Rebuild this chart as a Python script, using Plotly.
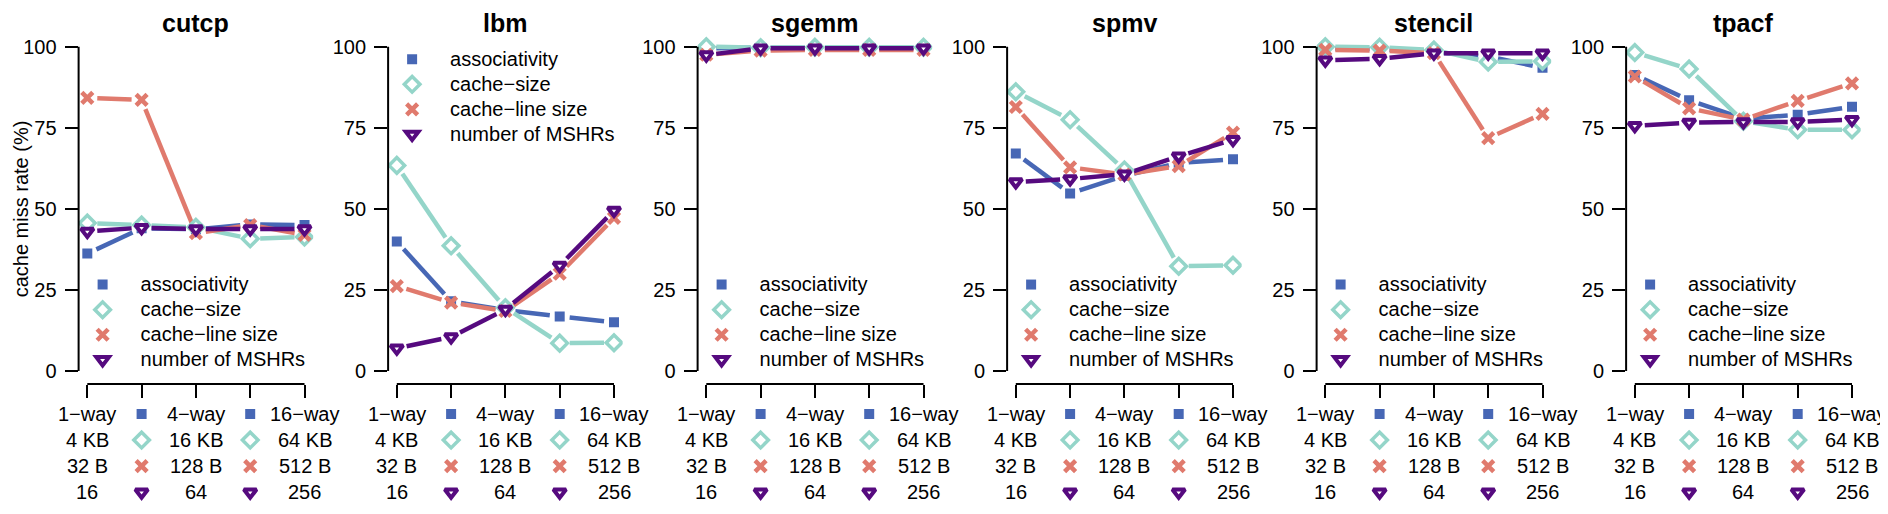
import plotly.graph_objects as go

# ---------------- data ----------------
benchmarks = ["cutcp", "lbm", "sgemm", "spmv", "stencil", "tpacf"]
series_names = ["associativity", "cache\u2212size", "cache\u2212line size", "number of MSHRs"]
positions = [1, 2, 3, 4, 5]

associativity = [
    [36.2, 44.0, 43.7, 45.2, 45.0],
    [39.9, 21.5, 18.8, 16.8, 15.0],
    [99.5, 99.7, 99.7, 99.7, 99.7],
    [67.1, 54.7, 60.2, 64.2, 65.3],
    [99.5, 99.2, 98.3, 97.0, 93.5],
    [91.3, 83.5, 77.8, 79.0, 81.5],
]
cache_size = [
    [45.6, 45.0, 44.3, 40.8, 41.3],
    [63.4, 38.6, 19.5, 8.6, 8.7],
    [100.0, 99.7, 99.8, 99.8, 99.8],
    [86.1, 77.5, 62.0, 32.3, 32.6],
    [100.0, 99.8, 99.0, 95.3, 95.5],
    [98.2, 93.1, 77.0, 74.4, 74.4],
]
cache_line_size = [
    [84.2, 83.6, 42.5, 45.0, 42.0],
    [26.2, 21.1, 18.5, 30.0, 47.2],
    [97.5, 98.8, 99.0, 99.0, 99.0],
    [81.4, 62.8, 60.6, 63.2, 73.5],
    [99.0, 98.8, 98.0, 71.8, 79.3],
    [90.8, 81.0, 77.5, 83.3, 88.7],
]
num_mshrs = [
    [43.0, 44.2, 43.8, 43.8, 43.8],
    [7.0, 10.5, 19.0, 32.5, 49.5],
    [97.4, 99.5, 99.5, 99.5, 99.5],
    [58.3, 59.2, 60.7, 66.2, 71.3],
    [95.8, 96.3, 98.0, 98.0, 98.0],
    [75.6, 76.6, 76.8, 76.8, 77.5],
]

labels_assoc = ["1\u2212way", "4\u2212way", "16\u2212way"]
labels_size = ["4 KB", "16 KB", "64 KB"]
labels_line = ["32 B", "128 B", "512 B"]
labels_mshr = ["16", "64", "256"]

y_ticks = [0, 25, 50, 75, 100]
y_title = "cache miss rate (%)"

# ---------------- style / geometry ----------------
PAGE_W, PAGE_H = 1888, 514
OFF = 8                      # default page body margin
W, H = PAGE_W - OFF, PAGE_H - OFF
FONT = "Liberation Sans, Arial, Helvetica, sans-serif"
colors = ["#4767B5", "#94D5C9", "#E07A6D", "#560A7F"]
legend_top = [False, True, False, False, False, False]


def fx(p):  # page pixel x -> paper fraction
    return (p - OFF) / W


def fy(p):  # page pixel y -> paper fraction
    return 1 - (p - OFF) / H


first_tick_px0 = 87.3
panel_step_px = 309.5
unit_px = 54.3
x_range = [0.84, 5.16]
y_range = [-4, 104]
plot_top_px, plot_bot_px = 33.7, 384.0
y_px_per_unit = (plot_bot_px - plot_top_px) / (y_range[1] - y_range[0])
gap_px = 10.0

row_first_px = 414.0
row_step_px = 26.1


def marker_style(k):
    if k == 0:
        return dict(symbol="square", size=10, color=colors[0], line=dict(width=0))
    if k == 1:
        return dict(symbol="diamond", size=12, color="white", line=dict(color=colors[1], width=3.5))
    if k == 2:
        return dict(symbol="x-thin", size=11, color=colors[2], line=dict(color=colors[2], width=4.5))
    return dict(symbol="triangle-down", size=11, color="white", line=dict(color=colors[3], width=4))


def gapped(xs, ys):
    """R type='b' style: line segments stop short of each point."""
    gx, gy = [], []
    for j in range(len(xs) - 1):
        dxp = (xs[j + 1] - xs[j]) * unit_px
        dyp = (ys[j + 1] - ys[j]) * y_px_per_unit
        L = (dxp ** 2 + dyp ** 2) ** 0.5
        if L <= 2 * gap_px:
            continue
        f = gap_px / L
        gx += [xs[j] + f * (xs[j + 1] - xs[j]), xs[j + 1] - f * (xs[j + 1] - xs[j]), None]
        gy += [ys[j] + f * (ys[j + 1] - ys[j]), ys[j + 1] - f * (ys[j + 1] - ys[j]), None]
    return gx, gy


all_series = [associativity, cache_size, cache_line_size, num_mshrs]
row_labels = [labels_assoc, labels_size, labels_line, labels_mshr]

fig = go.Figure()
layout = dict(
    width=W, height=H,
    margin=dict(l=0, r=0, t=0, b=0),
    paper_bgcolor="white", plot_bgcolor="white",
    font=dict(family=FONT, size=20, color="black"),
    showlegend=True,
)
annotations = []
shapes = []

row_dom = [fy(row_first_px + 3.5 * row_step_px), fy(row_first_px - 0.5 * row_step_px)]

for i, bench in enumerate(benchmarks):
    n = i + 1
    xa = "x" if n == 1 else f"x{n}"
    ya = "y" if n == 1 else f"y{n}"
    yr = f"y{n + 6}"
    lg = "legend" if n == 1 else f"legend{n}"
    first_tick = first_tick_px0 + panel_step_px * i
    dl = first_tick - (1 - x_range[0]) * unit_px
    dr = first_tick + (x_range[1] - 1) * unit_px

    layout["xaxis" if n == 1 else f"xaxis{n}"] = dict(
        domain=[fx(dl), fx(dr)], range=x_range, anchor=ya,
        showgrid=False, zeroline=False, showline=False,
        tickmode="array", tickvals=positions, showticklabels=False,
        ticks="outside", ticklen=13, tickwidth=2, tickcolor="black",
    )
    layout["yaxis" if n == 1 else f"yaxis{n}"] = dict(
        domain=[fy(plot_bot_px), fy(plot_top_px)], range=y_range, anchor=xa,
        showgrid=False, zeroline=False, showline=False,
        tickmode="array", tickvals=y_ticks, ticktext=[str(v) for v in y_ticks],
        ticks="outside", ticklen=13, tickwidth=2, tickcolor="black",
        tickfont=dict(family=FONT, size=20, color="black"),
        ticklabelstandoff=4,
    )
    # hidden axis holding the 4 rows of x-tick labels
    layout[f"yaxis{n + 6}"] = dict(domain=row_dom, range=[3.5, -0.5], anchor=xa, visible=False,
                                   showgrid=False, zeroline=False)

    # R-style axis lines spanning only the tick range
    shapes.append(dict(type="line", xref=xa, yref=f"{ya} domain", x0=positions[0], x1=positions[-1],
                       y0=0, y1=0, line=dict(color="black", width=2)))
    shapes.append(dict(type="line", xref=f"{xa} domain", yref=ya, x0=0, x1=0,
                       y0=y_ticks[0], y1=y_ticks[-1], line=dict(color="black", width=2)))

    # data
    for k, ser in enumerate(all_series):
        gx, gy = gapped(positions, ser[i])
        fig.add_trace(go.Scatter(x=gx, y=gy, xaxis=xa, yaxis=ya, mode="lines",
                                 line=dict(color=colors[k], width=4.5),
                                 showlegend=False, hoverinfo="skip"))
    for k, ser in enumerate(all_series):
        fig.add_trace(go.Scatter(x=positions, y=ser[i], xaxis=xa, yaxis=ya, mode="markers",
                                 marker=marker_style(k), showlegend=False, name=series_names[k]))

    # marker symbols in the tick-label rows (also serve as legend entries)
    for k in range(4):
        fig.add_trace(go.Scatter(x=[positions[1], positions[3]], y=[k, k], xaxis=xa, yaxis=yr,
                                 mode="markers", marker=marker_style(k),
                                 name=f'<span style="font-size:20px">{series_names[k]}</span>',
                                 legend=lg, showlegend=True, hoverinfo="skip"))
        for c, lab in enumerate(row_labels[k]):
            annotations.append(dict(text=lab, xref=xa, yref=yr, x=positions[2 * c], y=k,
                                    xanchor="center", yanchor="middle", showarrow=False,
                                    font=dict(family=FONT, size=20, color="black")))

    # legend inside the panel
    cy = 97.2 if legend_top[i] else 322.5
    layout[lg] = dict(
        x=fx(dl + 24 - 38), xanchor="left",
        y=fy(cy), yanchor="middle",
        bgcolor="rgba(0,0,0,0)", borderwidth=0,
        font=dict(family=FONT, size=17, color="black"),
        itemwidth=66, tracegroupgap=0, traceorder="normal",
        itemclick=False, itemdoubleclick=False,
    )

    # panel title
    annotations.append(dict(text=f"<b>{bench}</b>", xref="paper", yref="paper",
                            x=fx((dl + dr) / 2), y=fy(23), xanchor="center", yanchor="middle",
                            showarrow=False, font=dict(family=FONT, size=25, color="black")))

annotations.append(dict(text=y_title, xref="paper", yref="paper", x=fx(20.5),
                        y=fy((plot_top_px + plot_bot_px) / 2), textangle=-90,
                        xanchor="center", yanchor="middle", showarrow=False,
                        font=dict(family=FONT, size=20, color="black")))

layout["annotations"] = annotations
layout["shapes"] = shapes
fig.update_layout(**layout)
fig.write_html("out.html")
